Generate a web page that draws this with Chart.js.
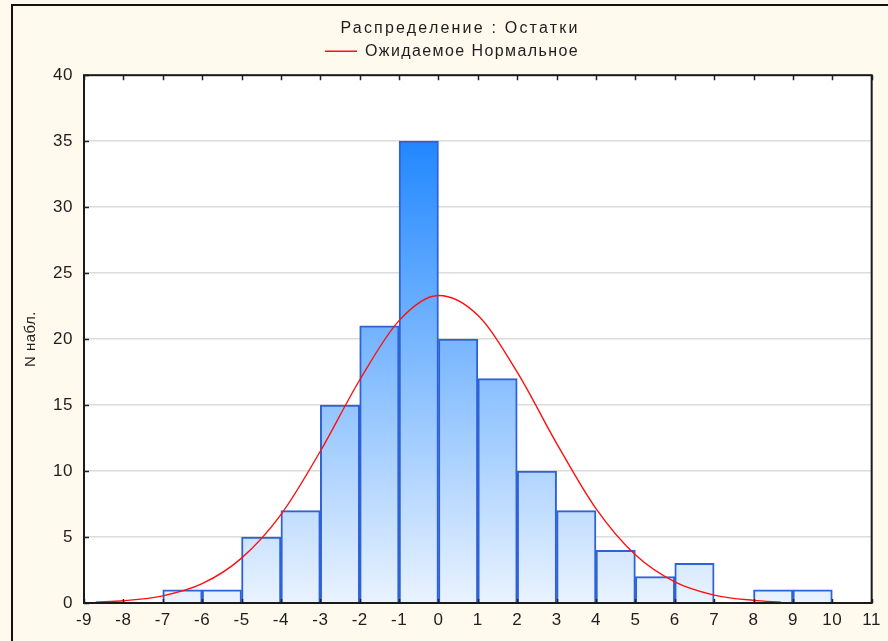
<!DOCTYPE html>
<html>
<head>
<meta charset="utf-8">
<script src="https://cdn.jsdelivr.net/npm/chart.js@4.4.1/dist/chart.umd.min.js"></script>
<style>
  html, body { margin: 0; padding: 0; background: #fff9ee; }
  canvas { display: block; }
</style>
</head>
<body>
<canvas id="hist" width="888" height="641"></canvas>
<script>
// histogram bins (centres) and counts
const binCenters = [-6.5, -5.5, -4.5, -3.5, -2.5, -1.5, -0.5, 0.5, 1.5, 2.5, 3.5, 4.5, 5.5, 6.5, 7.5, 8.5, 9.5];
const binCounts  = [1, 1, 5, 7, 15, 21, 35, 20, 17, 10, 7, 4, 2, 3, 0, 1, 1];

// expected normal curve
const curveX = [-8.7, -8, -7, -6, -5, -4, -3, -2, -1, 0, 1, 2, 3, 4, 5, 6, 7, 8, 8.7];
const curveY = [0.07, 0.17, 0.54, 1.46, 3.4, 6.7, 11.5, 16.9, 21.4, 23.3, 21.8, 17.5, 12.1, 7.15, 3.65, 1.6, 0.6, 0.2, 0.07];

const titleText = 'Распределение : Остатки';
const curveLabel = 'Ожидаемое Нормальное';
const yTitle = 'N набл.';

const FONT = 'Liberation Sans, Arial, sans-serif';
const ink = '#1e1e1e';

const bars = binCenters.map((x, i) => ({ x: x, y: binCounts[i] }));
const curve = curveX.map((x, i) => ({ x: x, y: curveY[i] }));

function barGradient(context) {
  const area = context.chart.chartArea;
  if (!area) return '#8ec2ff';
  const g = context.chart.ctx.createLinearGradient(0, area.top, 0, area.bottom);
  g.addColorStop(0, '#167fff');
  g.addColorStop(0.13, '#2288ff');
  g.addColorStop(1, '#e9f3ff');
  return g;
}

// title and legend text is spaced out and sits a bit right of centre in the original
function spaced(chart, box, spacing, dx) {
  if (!box || box._spaced) return;
  box._spaced = true;
  ['fit', 'update', 'draw'].forEach(fn => {
    if (typeof box[fn] !== 'function') return;
    const orig = box[fn].bind(box);
    box[fn] = function() {
      const c = chart.ctx;
      const prev = c.letterSpacing;
      c.letterSpacing = spacing;
      if (fn === 'draw') { c.save(); c.translate(dx, 0); }
      const r = orig.apply(null, arguments);
      if (fn === 'draw') c.restore();
      c.letterSpacing = prev;
      return r;
    };
  });
}

const framePlugin = {
  id: 'frame',
  beforeLayout(chart) {
    spaced(chart, chart.titleBlock, '2.2px', 15);
    spaced(chart, chart.legend, '1.4px', 7);
    chart.ctx.letterSpacing = '0.5px';
  },
  beforeDraw(chart) {
    const ctx = chart.ctx, a = chart.chartArea;
    ctx.save();
    ctx.fillStyle = '#fff9ee';
    ctx.fillRect(0, 0, chart.width, chart.height);
    ctx.strokeStyle = '#111';
    ctx.lineWidth = 2;
    ctx.beginPath();
    ctx.moveTo(12, chart.height);
    ctx.lineTo(12, 5);
    ctx.lineTo(chart.width, 5);
    ctx.stroke();
    ctx.fillStyle = '#ffffff';
    ctx.fillRect(a.left, a.top, a.right - a.left, a.bottom - a.top);
    ctx.restore();
    ctx.letterSpacing = '0.5px';
  },
  afterDraw(chart) {
    const ctx = chart.ctx, a = chart.chartArea;
    const xs = chart.scales.x, ys = chart.scales.y;
    ctx.save();
    ctx.strokeStyle = '#222';
    ctx.lineWidth = 1.5;
    ctx.beginPath();
    xs.ticks.forEach(t => {
      const px = Math.round(xs.getPixelForValue(t.value)) + 0.5;
      ctx.moveTo(px, a.bottom); ctx.lineTo(px, a.bottom - 4);
      ctx.moveTo(px, a.top); ctx.lineTo(px, a.top + 5);
    });
    ys.ticks.forEach(t => {
      const py = Math.round(ys.getPixelForValue(t.value)) + 0.5;
      ctx.moveTo(a.left, py); ctx.lineTo(a.left + 5, py);
    });
    ctx.stroke();
    ctx.lineWidth = 2;
    ctx.strokeStyle = '#1a1a1a';
    ctx.strokeRect(a.left, a.top, a.right - a.left, a.bottom - a.top);
    ctx.restore();
  }
};

new Chart(document.getElementById('hist'), {
  data: {
    datasets: [
      {
        type: 'line',
        label: curveLabel,
        data: curve,
        borderColor: '#ff1010',
        borderWidth: 1.4,
        pointRadius: 0,
        pointStyle: 'line',
        cubicInterpolationMode: 'monotone',
        fill: false,
        order: 0
      },
      {
        type: 'bar',
        label: 'bins',
        data: bars,
        backgroundColor: barGradient,
        borderColor: '#2f62d6',
        borderWidth: 2,
        borderSkipped: 'bottom',
        barPercentage: 1,
        categoryPercentage: 1,
        order: 1
      }
    ]
  },
  options: {
    responsive: false,
    animation: false,
    layout: { padding: { left: 13, top: 6, right: 11, bottom: 0 } },
    plugins: {
      tooltip: { enabled: false },
      title: {
        display: true,
        text: titleText,
        color: ink,
        font: { family: FONT, size: 16, weight: 'normal' },
        padding: { top: 13, bottom: 0 }
      },
      // empty spacer between legend and plot
      subtitle: {
        display: true,
        text: '',
        weight: 500,
        font: { family: FONT, size: 5 },
        padding: 0
      },
      legend: {
        display: true,
        labels: {
          filter: item => item.text === curveLabel,
          usePointStyle: true,
          pointStyle: 'line',
          pointStyleWidth: 32,
          boxHeight: 10,
          color: ink,
          font: { family: FONT, size: 16 },
          padding: 5
        }
      }
    },
    scales: {
      x: {
        type: 'linear',
        min: -9,
        max: 11,
        offset: false,
        grid: { display: false, drawTicks: false },
        border: { display: false },
        ticks: {
          stepSize: 1,
          color: ink,
          padding: 7,
          font: { family: FONT, size: 17 }
        },
        afterFit: s => { s.height = 38; }
      },
      y: {
        min: 0,
        max: 40,
        grid: { color: '#dcdcdc', lineWidth: 1.5, drawTicks: false },
        border: { display: false },
        ticks: {
          stepSize: 5,
          color: ink,
          padding: 11,
          font: { family: FONT, size: 17 }
        },
        title: {
          display: true,
          text: yTitle,
          color: ink,
          font: { family: FONT, size: 15 },
          padding: { top: 9, bottom: 0 }
        },
        afterFit: s => { s.width = 71; }
      }
    }
  },
  plugins: [framePlugin]
});
</script>
</body>
</html>
